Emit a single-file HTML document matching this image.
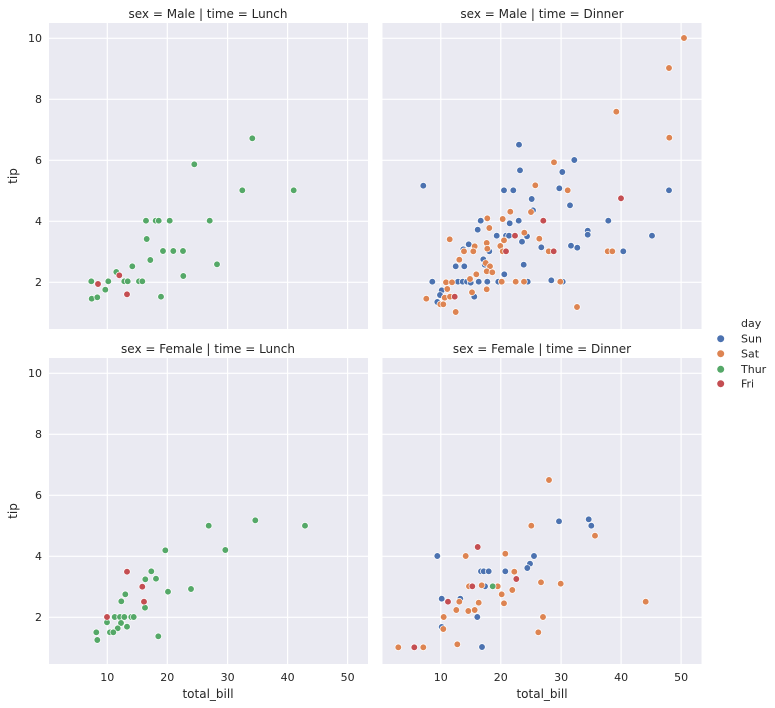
<!DOCTYPE html>
<html><head><meta charset="utf-8"><style>
html,body{margin:0;padding:0;background:#fff;}
svg{display:block;font-family:"DejaVu Sans","Liberation Sans",sans-serif;}
</style></head><body>
<svg width="775" height="708" viewBox="0 0 775 708" xmlns="http://www.w3.org/2000/svg">
<defs>
<g id="grid">
<rect x="0" y="0" width="319" height="306" fill="#eaeaf2"/>
<g stroke="#fff" stroke-width="1.2">
<line x1="58.3" y1="0" x2="58.3" y2="306"/><line x1="118.3" y1="0" x2="118.3" y2="306"/><line x1="178.6" y1="0" x2="178.6" y2="306"/><line x1="238.6" y1="0" x2="238.6" y2="306"/><line x1="298.6" y1="0" x2="298.6" y2="306"/>
<line x1="0" y1="15.3" x2="319" y2="15.3"/><line x1="0" y1="76.3" x2="319" y2="76.3"/><line x1="0" y1="137.3" x2="319" y2="137.3"/><line x1="0" y1="198.3" x2="319" y2="198.3"/><line x1="0" y1="259.3" x2="319" y2="259.3"/>
</g></g>
</defs>
<use href="#grid" x="49" y="23"/>
<use href="#grid" x="382.5" y="23"/>
<use href="#grid" x="49" y="358"/>
<use href="#grid" x="382.5" y="358"/>
<g font-size="12" fill="#262626" text-anchor="middle">
<text x="208" y="18">sex = Male | time = Lunch</text>
<text x="542" y="18">sex = Male | time = Dinner</text>
<text x="208" y="353">sex = Female | time = Lunch</text>
<text x="542" y="353">sex = Female | time = Dinner</text>
</g>
<g font-size="11" fill="#262626" text-anchor="end">
<text x="42" y="42">10</text><text x="42" y="103">8</text><text x="42" y="164">6</text><text x="42" y="225">4</text><text x="42" y="286">2</text>
<text x="42" y="377">10</text><text x="42" y="438">8</text><text x="42" y="499">6</text><text x="42" y="560">4</text><text x="42" y="621">2</text>
</g>
<g font-size="11" fill="#262626" text-anchor="middle">
<text x="107.3" y="681">10</text><text x="167.3" y="681">20</text><text x="227.6" y="681">30</text><text x="287.6" y="681">40</text><text x="347.6" y="681">50</text>
<text x="440.8" y="681">10</text><text x="500.8" y="681">20</text><text x="561.1" y="681">30</text><text x="621.1" y="681">40</text><text x="681.1" y="681">50</text>
</g>
<g font-size="12" fill="#262626" text-anchor="middle">
<text x="208" y="698">total_bill</text><text x="542" y="698">total_bill</text>
<text transform="translate(17,176) rotate(-90)">tip</text>
<text transform="translate(17,511) rotate(-90)">tip</text>
</g>
<g stroke="#fff" stroke-width="0.7">
<!-- top-left -->
<g fill="#55a868">
<circle cx="252.3" cy="138.3" r="3.3"/><circle cx="194.3" cy="164.3" r="3.3"/><circle cx="242.3" cy="190.3" r="3.3"/><circle cx="293.7" cy="190.3" r="3.3"/><circle cx="146" cy="220.7" r="3.3"/><circle cx="155.7" cy="220.7" r="3.3"/><circle cx="158.7" cy="220.7" r="3.3"/><circle cx="169.7" cy="220.7" r="3.3"/><circle cx="209.7" cy="220.7" r="3.3"/><circle cx="146.7" cy="239" r="3.3"/><circle cx="163" cy="251" r="3.3"/><circle cx="173.3" cy="251" r="3.3"/><circle cx="183" cy="251" r="3.3"/><circle cx="150.3" cy="260" r="3.3"/><circle cx="217" cy="264.3" r="3.3"/><circle cx="132.3" cy="266.3" r="3.3"/><circle cx="116.3" cy="272" r="3.3"/><circle cx="183.3" cy="276" r="3.3"/><circle cx="91.3" cy="281.3" r="3.3"/><circle cx="108.3" cy="281.3" r="3.3"/><circle cx="124.3" cy="281.3" r="3.3"/><circle cx="127.7" cy="281.3" r="3.3"/><circle cx="139" cy="281.3" r="3.3"/><circle cx="142.3" cy="281.3" r="3.3"/><circle cx="105.3" cy="289.7" r="3.3"/><circle cx="91.7" cy="298.7" r="3.3"/><circle cx="97.3" cy="297.3" r="3.3"/><circle cx="161" cy="296.7" r="3.3"/>
</g>
<g fill="#c44e52"><circle cx="98" cy="284" r="3.3"/><circle cx="119.3" cy="275.3" r="3.3"/><circle cx="127" cy="294.3" r="3.3"/></g>
<!-- top-right blue -->
<g fill="#4c72b0">
<circle cx="519" cy="144.7" r="3.3"/><circle cx="574.3" cy="160" r="3.3"/><circle cx="520" cy="170.3" r="3.3"/><circle cx="562.3" cy="172" r="3.3"/><circle cx="423.3" cy="185.7" r="3.3"/><circle cx="504" cy="190.3" r="3.3"/><circle cx="513.3" cy="190.3" r="3.3"/><circle cx="559.3" cy="188.3" r="3.3"/><circle cx="669" cy="190.3" r="3.3"/><circle cx="531.7" cy="199" r="3.3"/><circle cx="570" cy="205.3" r="3.3"/><circle cx="533" cy="210.3" r="3.3"/><circle cx="480.7" cy="220.7" r="3.3"/><circle cx="518.7" cy="220.7" r="3.3"/><circle cx="608.3" cy="220.7" r="3.3"/><circle cx="509.7" cy="223.3" r="3.3"/><circle cx="477.7" cy="229.7" r="3.3"/><circle cx="587.7" cy="230.7" r="3.3"/><circle cx="587.7" cy="234.7" r="3.3"/><circle cx="496.7" cy="235.7" r="3.3"/><circle cx="506" cy="235.7" r="3.3"/><circle cx="509" cy="235.7" r="3.3"/><circle cx="527" cy="236.3" r="3.3"/><circle cx="652" cy="235.7" r="3.3"/><circle cx="522" cy="241.7" r="3.3"/><circle cx="468.7" cy="244.3" r="3.3"/><circle cx="541.3" cy="247.3" r="3.3"/><circle cx="571" cy="245.7" r="3.3"/><circle cx="577.3" cy="247.7" r="3.3"/><circle cx="463.3" cy="249.3" r="3.3"/><circle cx="489.3" cy="251.3" r="3.3"/><circle cx="623.3" cy="251.3" r="3.3"/><circle cx="483.3" cy="259.3" r="3.3"/><circle cx="484.7" cy="264.7" r="3.3"/><circle cx="455.7" cy="266.3" r="3.3"/><circle cx="464.3" cy="266.3" r="3.3"/><circle cx="523.7" cy="264.7" r="3.3"/><circle cx="504.3" cy="274.3" r="3.3"/><circle cx="432.3" cy="281.7" r="3.3"/><circle cx="458" cy="281.7" r="3.3"/><circle cx="462.7" cy="281.7" r="3.3"/><circle cx="467" cy="281.7" r="3.3"/><circle cx="470.7" cy="282.7" r="3.3"/><circle cx="478.7" cy="281.7" r="3.3"/><circle cx="487.3" cy="281.7" r="3.3"/><circle cx="498.3" cy="281.7" r="3.3"/><circle cx="527.7" cy="281.7" r="3.3"/><circle cx="551.3" cy="280.3" r="3.3"/><circle cx="562.7" cy="281.7" r="3.3"/><circle cx="441.7" cy="290.3" r="3.3"/><circle cx="440" cy="295" r="3.3"/><circle cx="474.3" cy="296.7" r="3.3"/><circle cx="437.3" cy="302" r="3.3"/>
</g>
<g fill="#dd8452">
<circle cx="684" cy="38" r="3.3"/><circle cx="669" cy="68" r="3.3"/><circle cx="616.3" cy="111.7" r="3.3"/><circle cx="669.3" cy="137.7" r="3.3"/><circle cx="554" cy="162.3" r="3.3"/><circle cx="535.3" cy="185.3" r="3.3"/><circle cx="567.7" cy="190.3" r="3.3"/><circle cx="510.3" cy="211.7" r="3.3"/><circle cx="531" cy="212" r="3.3"/><circle cx="487.3" cy="218.3" r="3.3"/><circle cx="502.7" cy="219" r="3.3"/><circle cx="489.3" cy="228" r="3.3"/><circle cx="524.3" cy="232.7" r="3.3"/><circle cx="449.7" cy="239.3" r="3.3"/><circle cx="539.3" cy="238.7" r="3.3"/><circle cx="486.7" cy="243" r="3.3"/><circle cx="504" cy="240.3" r="3.3"/><circle cx="500.3" cy="246" r="3.3"/><circle cx="474.7" cy="246.3" r="3.3"/><circle cx="487.3" cy="248.7" r="3.3"/><circle cx="464" cy="251.3" r="3.3"/><circle cx="473.3" cy="251.3" r="3.3"/><circle cx="502.7" cy="251.3" r="3.3"/><circle cx="548.7" cy="251.3" r="3.3"/><circle cx="607.7" cy="251.3" r="3.3"/><circle cx="612.3" cy="251.3" r="3.3"/><circle cx="459.3" cy="259.7" r="3.3"/><circle cx="485.7" cy="263" r="3.3"/><circle cx="490" cy="266.3" r="3.3"/><circle cx="486.7" cy="271.3" r="3.3"/><circle cx="492.3" cy="272.3" r="3.3"/><circle cx="476.3" cy="274.3" r="3.3"/><circle cx="470" cy="279" r="3.3"/><circle cx="446" cy="282.3" r="3.3"/><circle cx="452" cy="282.3" r="3.3"/><circle cx="501.7" cy="281.7" r="3.3"/><circle cx="515.7" cy="281.7" r="3.3"/><circle cx="524" cy="281.7" r="3.3"/><circle cx="560.3" cy="281.7" r="3.3"/><circle cx="447.3" cy="289" r="3.3"/><circle cx="486.7" cy="289.3" r="3.3"/><circle cx="472" cy="292.3" r="3.3"/><circle cx="444.7" cy="297.7" r="3.3"/><circle cx="450" cy="296.7" r="3.3"/><circle cx="426.3" cy="298.7" r="3.3"/><circle cx="440.3" cy="304.3" r="3.3"/><circle cx="443.3" cy="304.3" r="3.3"/><circle cx="455.7" cy="312" r="3.3"/><circle cx="577" cy="307" r="3.3"/>
</g>
<g fill="#c44e52"><circle cx="621" cy="198.3" r="3.3"/><circle cx="543.3" cy="220.7" r="3.3"/><circle cx="515" cy="235.7" r="3.3"/><circle cx="506" cy="251.3" r="3.3"/><circle cx="553.7" cy="251.3" r="3.3"/><circle cx="454.7" cy="296.7" r="3.3"/></g>
<!-- bottom-left -->
<g fill="#55a868">
<circle cx="208.7" cy="525.7" r="3.3"/><circle cx="255.3" cy="520.3" r="3.3"/><circle cx="305" cy="525.7" r="3.3"/><circle cx="165.3" cy="550.3" r="3.3"/><circle cx="225.3" cy="550" r="3.3"/><circle cx="151.3" cy="571.3" r="3.3"/><circle cx="145.3" cy="579.3" r="3.3"/><circle cx="156" cy="578.7" r="3.3"/><circle cx="168" cy="591.7" r="3.3"/><circle cx="191" cy="589" r="3.3"/><circle cx="125.3" cy="594.3" r="3.3"/><circle cx="121.3" cy="601.3" r="3.3"/><circle cx="145" cy="607.7" r="3.3"/><circle cx="114.7" cy="617" r="3.3"/><circle cx="120" cy="617" r="3.3"/><circle cx="124.3" cy="617" r="3.3"/><circle cx="131.3" cy="617" r="3.3"/><circle cx="133.7" cy="617" r="3.3"/><circle cx="107" cy="622.3" r="3.3"/><circle cx="121" cy="623" r="3.3"/><circle cx="127" cy="626.7" r="3.3"/><circle cx="117.7" cy="628.3" r="3.3"/><circle cx="110" cy="632.3" r="3.3"/><circle cx="113.3" cy="632.3" r="3.3"/><circle cx="96.3" cy="632.3" r="3.3"/><circle cx="97.3" cy="640" r="3.3"/><circle cx="158.3" cy="636.3" r="3.3"/>
</g>
<g fill="#c44e52"><circle cx="127" cy="571.7" r="3.3"/><circle cx="142.3" cy="586.7" r="3.3"/><circle cx="144" cy="601.7" r="3.3"/><circle cx="107" cy="617" r="3.3"/></g>
<!-- bottom-right -->
<g fill="#4c72b0">
<circle cx="559" cy="521.3" r="3.3"/><circle cx="588.7" cy="519.3" r="3.3"/><circle cx="591.3" cy="525.7" r="3.3"/><circle cx="437.3" cy="556" r="3.3"/><circle cx="534" cy="556" r="3.3"/><circle cx="530" cy="563.7" r="3.3"/><circle cx="527.3" cy="568" r="3.3"/><circle cx="481" cy="571.3" r="3.3"/><circle cx="483.7" cy="571.3" r="3.3"/><circle cx="488.7" cy="571.3" r="3.3"/><circle cx="505.3" cy="571.3" r="3.3"/><circle cx="485" cy="586.3" r="3.3"/><circle cx="441.7" cy="598.7" r="3.3"/><circle cx="460.3" cy="598.7" r="3.3"/><circle cx="477.3" cy="617" r="3.3"/><circle cx="441.7" cy="627" r="3.3"/><circle cx="482" cy="647" r="3.3"/>
</g>
<g fill="#dd8452">
<circle cx="549" cy="480" r="3.3"/><circle cx="531.3" cy="525.7" r="3.3"/><circle cx="595" cy="535.7" r="3.3"/><circle cx="465.7" cy="556" r="3.3"/><circle cx="505.3" cy="553.7" r="3.3"/><circle cx="514.3" cy="571.7" r="3.3"/><circle cx="541" cy="582.3" r="3.3"/><circle cx="560.7" cy="583.7" r="3.3"/><circle cx="469" cy="586.3" r="3.3"/><circle cx="481.7" cy="585.3" r="3.3"/><circle cx="497.7" cy="586.3" r="3.3"/><circle cx="512.3" cy="590" r="3.3"/><circle cx="501.7" cy="594.3" r="3.3"/><circle cx="459.3" cy="601.7" r="3.3"/><circle cx="478.7" cy="602.7" r="3.3"/><circle cx="504" cy="603.3" r="3.3"/><circle cx="645.7" cy="601.7" r="3.3"/><circle cx="456.3" cy="610" r="3.3"/><circle cx="468.3" cy="611" r="3.3"/><circle cx="474.7" cy="610" r="3.3"/><circle cx="443.7" cy="617" r="3.3"/><circle cx="543" cy="617" r="3.3"/><circle cx="443.3" cy="629" r="3.3"/><circle cx="538.3" cy="632.3" r="3.3"/><circle cx="457.3" cy="644.3" r="3.3"/><circle cx="398.3" cy="647.3" r="3.3"/><circle cx="423.3" cy="647.3" r="3.3"/>
</g>
<g fill="#c44e52"><circle cx="477.7" cy="547" r="3.3"/><circle cx="516.3" cy="579" r="3.3"/><circle cx="472.3" cy="586.3" r="3.3"/><circle cx="448" cy="601.7" r="3.3"/><circle cx="414.3" cy="647.3" r="3.3"/></g>
<g fill="#55a868"><circle cx="492.7" cy="586.3" r="3.3"/></g>
</g>
<!-- legend -->
<g font-size="11" fill="#262626">
<text x="741" y="327">day</text>
<circle cx="720.7" cy="338.7" r="3.5" fill="#4c72b0"/><text x="741" y="342.5">Sun</text>
<circle cx="720.7" cy="353.7" r="3.5" fill="#dd8452"/><text x="741" y="357.5">Sat</text>
<circle cx="720.7" cy="369.3" r="3.5" fill="#55a868"/><text x="741" y="373">Thur</text>
<circle cx="720.7" cy="383.7" r="3.5" fill="#c44e52"/><text x="741" y="387.5">Fri</text>
</g>
</svg>
</body></html>
